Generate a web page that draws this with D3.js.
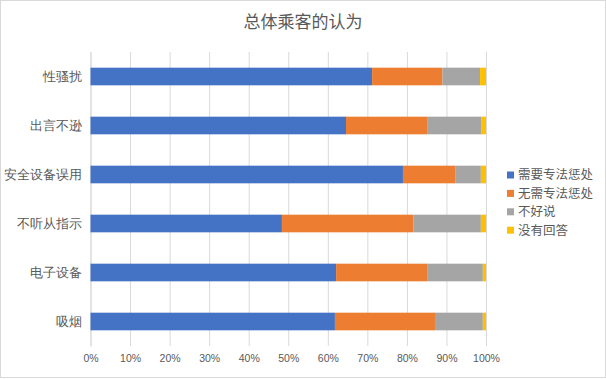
<!DOCTYPE html>
<html><head><meta charset="utf-8">
<script src="https://cdn.jsdelivr.net/npm/d3@7"></script>
<style>html,body{margin:0;padding:0;background:#fff;}svg{display:block;font-family:"Noto Sans CJK SC","Noto Sans",sans-serif;}</style>
</head><body>
<script>
const categories = ["性骚扰","出言不逊","安全设备误用","不听从指示","电子设备","吸烟"];
const seriesNames = ["需要专法惩处","无需专法惩处","不好说","没有回答"];
const needLaw   = [71.2, 64.6, 79.0, 48.4, 62.1, 61.8];
const noLaw     = [17.8, 20.5, 13.2, 33.3, 23.0, 25.3];
const unsure    = [ 9.5, 13.8,  6.5, 17.0, 14.1, 12.1];
const noAnswer  = [ 1.5,  1.1,  1.3,  1.3,  0.8,  0.8];
const colors = ["#4472C4","#ED7D31","#A5A5A5","#FFC000"];
const tickValues = [0,0.1,0.2,0.3,0.4,0.5,0.6,0.7,0.8,0.9,1];

const W = 606, H = 379;
const svg = d3.select("body").append("svg").attr("width", W).attr("height", H);
svg.append("rect").attr("x",0.5).attr("y",0.5).attr("width",W-1).attr("height",H-2)
  .attr("fill","#fff").attr("stroke","#d9d9d9");

svg.append("text").attr("x",303).attr("y",28).attr("text-anchor","middle")
  .attr("font-size",17).attr("fill","#595959").text("总体乘客的认为");

const rows = categories.map((c,i)=>({cat:c, v:[needLaw[i],noLaw[i],unsure[i],noAnswer[i]]}));
const table = rows.map(r=>{const s=d3.sum(r.v); const o={cat:r.cat}; seriesNames.forEach((n,j)=>o[n]=r.v[j]/s); return o;});
const stacked = d3.stack().keys(seriesNames)(table);

const x = d3.scaleLinear().domain([0,1]).range([90.5,486]);
const y = d3.scaleBand().domain(categories).range([52,346]).paddingInner(0.64).paddingOuter(0.32);

const xAxis = svg.append("g").attr("transform","translate(0,346)")
  .call(d3.axisBottom(x).tickValues(tickValues).tickFormat(d3.format(".0%")).tickSize(-294).tickSizeOuter(0));
xAxis.select(".domain").remove();
xAxis.selectAll(".tick line").attr("stroke","#d9d9d9");
xAxis.selectAll(".tick text").attr("fill","#595959").attr("font-size",10.5).attr("dy","1.25em")
  .attr("font-family","'Liberation Sans',Arial,sans-serif");

const yAxis = svg.append("g").attr("transform","translate(90.5,0)")
  .call(d3.axisLeft(y).tickSize(0).tickPadding(9));
yAxis.select(".domain").attr("stroke","#d9d9d9");
yAxis.selectAll(".tick text").attr("fill","#595959").attr("font-size",12.5);

svg.append("g").selectAll("g").data(stacked).join("g").attr("fill",(d,i)=>colors[i])
  .selectAll("rect").data(d=>d).join("rect")
  .attr("x",d=>x(d[0])).attr("width",d=>x(d[1])-x(d[0]))
  .attr("y",d=>y(d.data.cat)).attr("height",y.bandwidth());

const lg = svg.append("g");
seriesNames.forEach((n,i)=>{
  const yy = 175 + i*18.4;
  lg.append("rect").attr("x",507).attr("y",yy-3.5).attr("width",7).attr("height",7).attr("fill",colors[i]);
  lg.append("text").attr("x",518).attr("y",yy).attr("dy","0.35em").attr("font-size",12.5).attr("fill","#595959").text(n);
});
</script>
</body></html>
